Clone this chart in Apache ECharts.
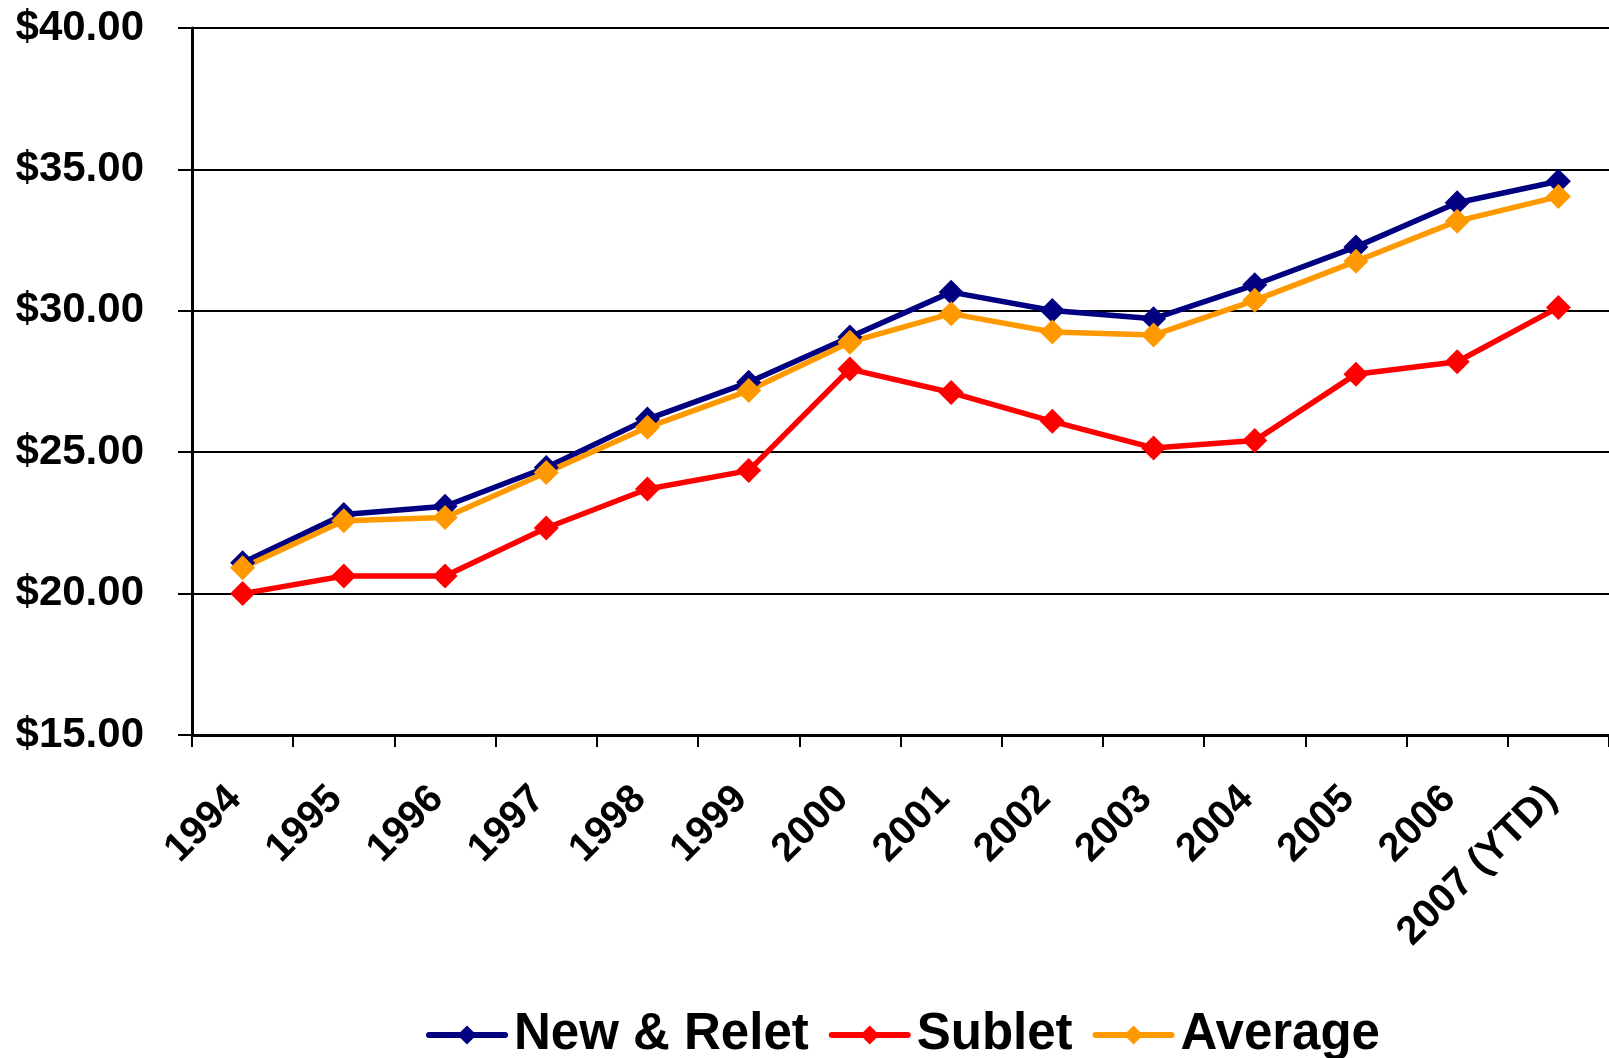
<!DOCTYPE html>
<html>
<head>
<meta charset="utf-8">
<script src="https://cdn.jsdelivr.net/npm/echarts@6/dist/echarts.min.js"></script>
<style>
  html, body { margin: 0; padding: 0; background: #fff; }
  #main { width: 1609px; height: 1058px; }
</style>
</head>
<body>
<div id="main"></div>
<script>
var myChart = echarts.init(document.getElementById('main'));

var years = ['1994', '1995', '1996', '1997', '1998', '1999', '2000', '2001',
             '2002', '2003', '2004', '2005', '2006', '2007 (YTD)'];
var newRelet = [21.09, 22.80, 23.09, 24.46, 26.17, 27.47, 29.07, 30.66, 30.01, 29.72, 30.92, 32.26, 33.82, 34.58];
var sublet   = [20.00, 20.62, 20.62, 22.32, 23.70, 24.35, 27.94, 27.11, 26.09, 25.15, 25.41, 27.76, 28.20, 30.12];
var average  = [20.91, 22.58, 22.69, 24.28, 25.88, 27.18, 28.89, 29.90, 29.25, 29.14, 30.37, 31.75, 33.17, 34.04];

var font = "'Liberation Sans', Arial, sans-serif";

function lineSeries(name, data, color) {
    return {
        name: name,
        type: 'line',
        data: data,
        symbol: 'diamond',
        symbolSize: 25,
        showAllSymbol: true,
        lineStyle: { color: color, width: 5.5 },
        itemStyle: { color: color, borderWidth: 0 },
        animation: false
    };
}

var option = {
    backgroundColor: '#fff',
    grid: {
        left: 192,
        right: -15,
        top: 28,
        bottom: 323
    },
    legend: {
        left: 421,
        top: 1004,
        itemWidth: 76,
        itemHeight: 24,
        itemGap: 20,
        lineStyle: { width: 6, cap: 'round' },
        textStyle: {
            fontFamily: font,
            fontWeight: 'bold',
            fontSize: 51,
            lineHeight: 52,
            color: '#000',
            padding: [0, 0, 0, 4]
        },
        data: ['New & Relet', 'Sublet', 'Average']
    },
    xAxis: {
        type: 'category',
        data: years,
        boundaryGap: true,
        axisLine: { lineStyle: { color: '#000', width: 3 } },
        axisTick: { show: true, length: 12, lineStyle: { color: '#000', width: 2 } },
        axisLabel: {
            rotate: 45,
            interval: 0,
            margin: 50,
            padding: [0, 11, 21, 0],
            fontFamily: font,
            fontWeight: 'bold',
            fontSize: 40,
            color: '#000'
        }
    },
    yAxis: {
        type: 'value',
        min: 15,
        max: 40,
        interval: 5,
        axisLine: { show: true, lineStyle: { color: '#000', width: 3 } },
        axisTick: { show: true, length: 14, lineStyle: { color: '#000', width: 2 } },
        splitLine: { lineStyle: { color: '#000', width: 2 } },
        axisLabel: {
            margin: 48,
            fontFamily: font,
            fontWeight: 'bold',
            fontSize: 42,
            color: '#000',
            formatter: function (v) { return '$' + v.toFixed(2); }
        }
    },
    series: [
        lineSeries('New & Relet', newRelet, '#000080'),
        lineSeries('Sublet', sublet, '#FF0000'),
        lineSeries('Average', average, '#FF9900')
    ]
};
myChart.setOption(option);
</script>
</body>
</html>
